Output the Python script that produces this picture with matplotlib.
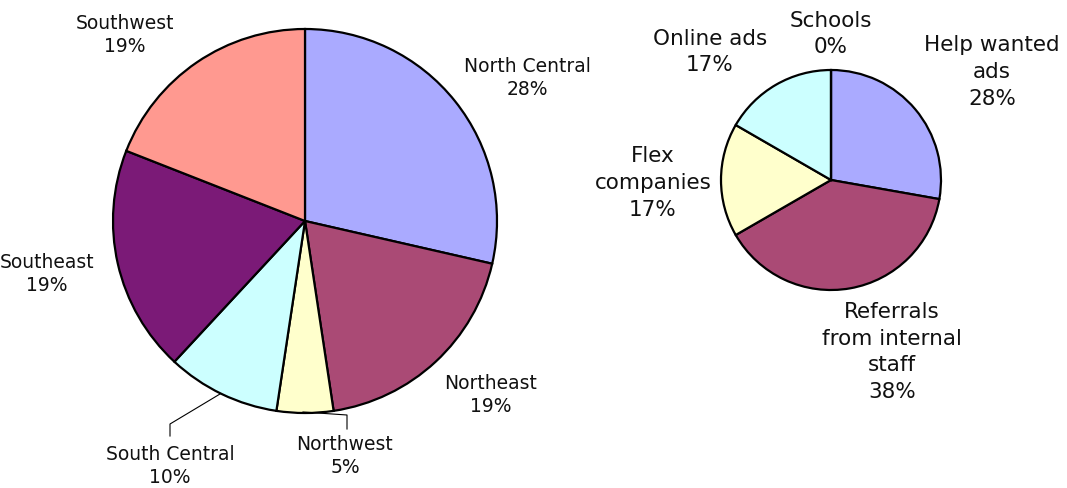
import matplotlib
matplotlib.use('Agg')
import matplotlib.pyplot as plt

# data: slice sizes (counts) and the percent labels as printed on the chart
region_names = ['North Central', 'Northeast', 'Northwest', 'South Central', 'Southeast', 'Southwest']
region_counts = [6, 4, 1, 2, 4, 4]
region_pct = ['28%', '19%', '5%', '10%', '19%', '19%']
region_colors = ['#AAAAFF', '#AA4A75', '#FFFFCC', '#CCFFFF', '#7B1A77', '#FF9990']

source_names = ['Help wanted\nads', 'Referrals\nfrom internal\nstaff', 'Flex\ncompanies', 'Online ads', 'Schools']
source_counts = [5, 7, 3, 3, 0]
source_pct = ['28%', '38%', '17%', '17%', '0%']
source_colors = ['#AAAAFF', '#AA4A75', '#FFFFCC', '#CCFFFF', '#FFFFFF']

W, H = 1067, 489
fig = plt.figure(figsize=(W / 100, H / 100), dpi=100)

def pie_axes(cx, cy, r):
    # axes whose data units are pie radii, placed by pixel centre
    return fig.add_axes([(cx - r) / W, (H - cy - r) / H, 2 * r / W, 2 * r / H])

def fix_limits(ax):
    ax.set_xlim(-1, 1)
    ax.set_ylim(-1, 1)
    ax.axis('off')

def to_data(px, py, cx, cy, r):
    return (px - cx) / r, (cy - py) / r

# left pie
L = (305, 222, 192)
ax1 = pie_axes(*L)
ax1.pie(region_counts, colors=region_colors, startangle=90, counterclock=False,
        radius=1, wedgeprops=dict(edgecolor='black', linewidth=1.6))
fix_limits(ax1)
left_pos = [(527, 78), (491, 395), (345, 456), (170, 466), (47, 274), (125, 35)]
for name, p, (px, py) in zip(region_names, region_pct, left_pos):
    x, y = to_data(px, py, *L)
    ax1.text(x, y, name + '\n' + p, ha='center', va='center',
             fontsize=13.5, linespacing=1.27, color='#111111', clip_on=False)
# leader lines
for pts in [[(220, 395), (170, 425), (170, 437)], [(303, 413), (347, 416), (347, 430)]]:
    xs, ys = zip(*[to_data(px, py, *L) for px, py in pts])
    ax1.plot(xs, ys, color='black', linewidth=0.8, clip_on=False)

# right pie
R = (831, 181, 110)
ax2 = pie_axes(*R)
ax2.pie(source_counts, colors=source_colors, startangle=90, counterclock=False,
        radius=1, wedgeprops=dict(edgecolor='black', linewidth=1.6))
fix_limits(ax2)
right_pos = [(992, 72), (892, 352), (653, 183), (710, 52), (831, 34)]
for name, p, (px, py) in zip(source_names, source_pct, right_pos):
    x, y = to_data(px, py, *R)
    ax2.text(x, y, name + '\n' + p, ha='center', va='center',
             fontsize=15.5, linespacing=1.42, color='#111111', clip_on=False)

fig.savefig('out.png', dpi=100)
